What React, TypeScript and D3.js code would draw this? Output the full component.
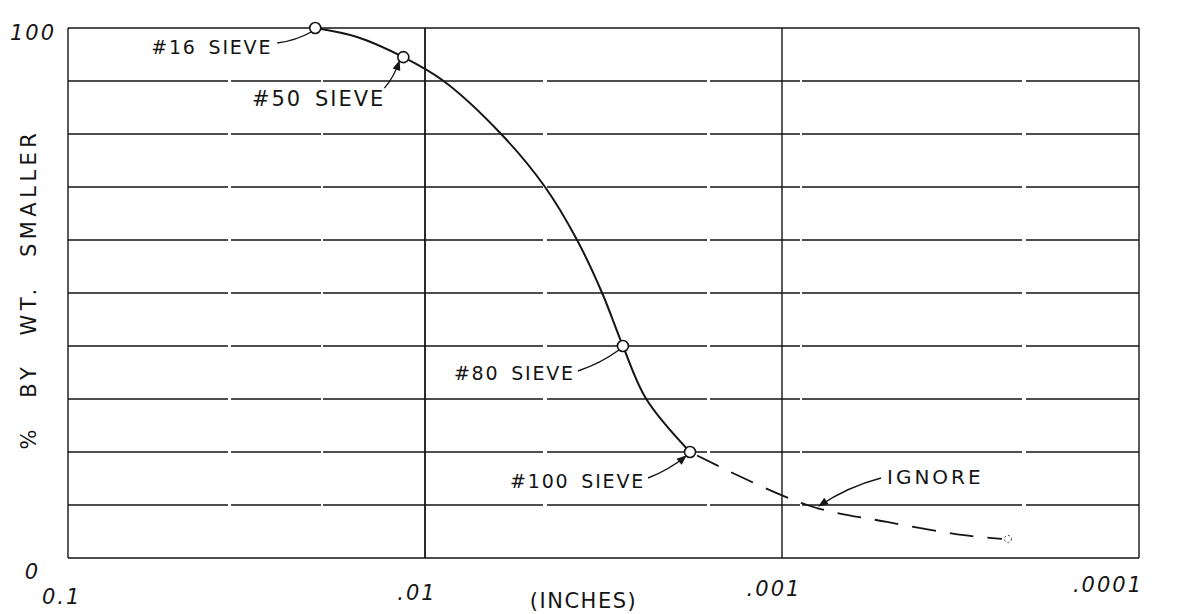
import React, { useEffect, useRef } from 'react';
import * as d3 from 'd3';

// grain size (inches) vs. percent by weight smaller
const sieveNames = ['#16 SIEVE', '#50 SIEVE', '#80 SIEVE', '#100 SIEVE'];
const sieveSize = [0.0203, 0.0115, 0.00279, 0.00181];
const sievePct = [100, 94.5, 40, 20];

const curveSize = [0.0203, 0.0155, 0.0115, 0.00887, 0.00612, 0.00461, 0.00375, 0.00319, 0.00279, 0.00240, 0.00181];
const curvePct = [100, 98.3, 94.5, 90, 80, 70, 60, 50, 40, 30, 20];

// dashed tail (to be ignored)
const tailSize = [0.00181, 0.000851, 0.000508, 0.000309, 0.000242];
const tailPct = [20, 10, 6.8, 4.3, 3.6];

const xTicks = [0.1, 0.01, 0.001, 0.0001];
const xTickLabels = ['0.1', '.01', '.001', '.0001'];
const yGrid = [0, 10, 20, 30, 40, 50, 60, 70, 80, 90, 100];
const yTickLabels = ['0', '100'];
const yTickValues = [0, 100];

const W = 1186, H = 614;
const margin = { top: 28, right: 47, bottom: 56, left: 68 };
const font = '"DejaVu Sans", sans-serif';
const ink = '#151515';

// label layout: offset of the text end from its point, and of the leader start
const labelDx = [-43, -18, -48, -45];
const labelDy = [19, 41, 27, 29];
const leadDx = [-38, -19, -45, -42];
const leadDy = [15, 31, 25, 26];
const arrowed = [false, true, false, true];

export default function App() {
    const ref = useRef<SVGSVGElement>(null);

    useEffect(() => {
        const svg = d3.select(ref.current);
        svg.selectAll('*').remove();

        const x = d3.scaleLog().domain([0.1, 0.0001]).range([margin.left, W - margin.right]);
        const y = d3.scaleLinear().domain([0, 100]).range([H - margin.bottom, margin.top]);

        const defs = svg.append('defs');
        defs.append('marker')
            .attr('id', 'arrowBig')
            .attr('viewBox', '0 0 10 10')
            .attr('refX', 9).attr('refY', 5)
            .attr('markerWidth', 14).attr('markerHeight', 10)
            .attr('markerUnits', 'userSpaceOnUse')
            .attr('orient', 'auto')
            .append('path')
            .attr('d', 'M0,1L10,5L0,9Z')
            .attr('fill', ink);

        const g = svg.append('g');

        // horizontal grid
        g.append('g').selectAll('line')
            .data(yGrid)
            .enter()
            .append('line')
            .attr('x1', x(0.1)).attr('x2', x(0.0001))
            .attr('y1', d => y(d)).attr('y2', d => y(d))
            .attr('stroke', ink)
            .attr('stroke-width', d => (d === 0 || d === 100 ? 1.5 : 1.3))
            .attr('stroke-dasharray', d => (d === 0 || d === 100 ? null : '160,3,90,2,220,4'));

        // vertical decade lines
        g.append('g').selectAll('line')
            .data(xTicks)
            .enter()
            .append('line')
            .attr('x1', d => x(d)).attr('x2', d => x(d))
            .attr('y1', y(100)).attr('y2', y(0))
            .attr('stroke', ink)
            .attr('stroke-width', (d, i) => (i === 1 ? 1.8 : 1.4));

        // tick labels
        g.append('g').selectAll('text')
            .data(xTicks)
            .enter()
            .append('text')
            .attr('x', d => x(d))
            .attr('y', (d, i) => y(0) + 46 - i * 4)
            .attr('text-anchor', (d, i) => (i === 0 ? 'start' : i === 3 ? 'end' : 'middle'))
            .attr('dx', (d, i) => (i === 0 ? -26 : i === 3 ? 4 : -8))
            .attr('font-family', font)
            .attr('font-style', 'italic')
            .attr('font-size', 21)
            .attr('letter-spacing', 2)
            .attr('fill', ink)
            .text((d, i) => xTickLabels[i]);

        g.append('g').selectAll('text')
            .data(yTickValues)
            .enter()
            .append('text')
            .attr('x', (d, i) => (i === 0 ? margin.left - 28 : margin.left - 12))
            .attr('y', d => y(d) + (d === 0 ? 21 : 12))
            .attr('text-anchor', 'end')
            .attr('font-family', font)
            .attr('font-style', 'italic')
            .attr('font-size', 21)
            .attr('letter-spacing', 2)
            .attr('fill', ink)
            .text((d, i) => yTickLabels[i]);

        // axis titles
        svg.append('text')
            .attr('x', (x(0.01) + x(0.001)) / 2 - 20)
            .attr('y', H - 6)
            .attr('text-anchor', 'middle')
            .attr('font-family', font)
            .attr('font-size', 21)
            .attr('letter-spacing', 1.5)
            .attr('fill', ink)
            .text('(INCHES)');
        svg.append('text')
            .attr('transform', `translate(36,${(y(0) + y(100)) / 2 - 4}) rotate(-90)`)
            .attr('text-anchor', 'middle')
            .attr('font-family', font)
            .attr('font-size', 21)
            .attr('letter-spacing', 4.5)
            .attr('word-spacing', 16)
            .attr('fill', ink)
            .text('% BY WT. SMALLER');

        // solid gradation curve
        const line = d3.line<number>()
            .x((d, i) => x(curveSize[i]))
            .y(d => y(d))
            .curve(d3.curveCatmullRom.alpha(0.5));
        g.append('path')
            .attr('d', line(curvePct))
            .attr('fill', 'none')
            .attr('stroke', ink)
            .attr('stroke-width', 2);

        // dashed tail
        const tail = d3.line<number>()
            .x((d, i) => x(tailSize[i]))
            .y(d => y(d))
            .curve(d3.curveCatmullRom.alpha(0.5));
        g.append('path')
            .attr('d', tail(tailPct))
            .attr('fill', 'none')
            .attr('stroke', ink)
            .attr('stroke-width', 1.8)
            .attr('stroke-dasharray', '24,14')
            .attr('stroke-dashoffset', -8);

        // sieve points
        g.append('g').selectAll('circle')
            .data(sievePct)
            .enter()
            .append('circle')
            .attr('cx', (d, i) => x(sieveSize[i]))
            .attr('cy', d => y(d))
            .attr('r', 5.5)
            .attr('fill', '#fff')
            .attr('stroke', ink)
            .attr('stroke-width', 1.6);

        // last (ignored) point
        const last = tailPct.length - 1;
        g.append('circle')
            .attr('cx', x(tailSize[last]) + 6)
            .attr('cy', y(tailPct[last]))
            .attr('r', 3.5)
            .attr('fill', '#fff')
            .attr('stroke', '#444')
            .attr('stroke-width', 1)
            .attr('stroke-dasharray', '2,2');

        // sieve labels with leaders
        const labels = g.append('g');
        sievePct.forEach((p, i) => {
            const px = x(sieveSize[i]), py = y(p);
            labels.append('text')
                .attr('x', px + labelDx[i])
                .attr('y', py + labelDy[i])
                .attr('dy', '0.35em')
                .attr('text-anchor', 'end')
                .attr('font-family', font)
                .attr('font-size', i === 1 ? 21 : 19)
                .attr('letter-spacing', i === 1 ? 2 : 1.8)
                .attr('word-spacing', 4)
                .attr('fill', ink)
                .text(sieveNames[i]);
            const sx = px + leadDx[i], sy = py + leadDy[i];
            const ex = px - 4, ey = py + 4;
            const mx = (sx + ex) / 2 + 2, my = (sy + ey) / 2 + 3;
            labels.append('path')
                .attr('d', `M${sx},${sy}Q${mx},${my} ${ex},${ey}`)
                .attr('fill', 'none')
                .attr('stroke', ink)
                .attr('stroke-width', 1.4)
                .attr('marker-end', arrowed[i] ? 'url(#arrowBig)' : null);
        });

        // IGNORE note
        const ix = x(tailSize[1]), iy = y(tailPct[1]);
        labels.append('text')
            .attr('x', ix + 80)
            .attr('y', iy - 28)
            .attr('dy', '0.35em')
            .attr('font-family', font)
            .attr('font-size', 20)
            .attr('letter-spacing', 3)
            .attr('fill', ink)
            .text('IGNORE');
        labels.append('path')
            .attr('d', `M${ix + 74},${iy - 27}Q${ix + 40},${iy - 18} ${ix + 12},${iy + 1}`)
            .attr('fill', 'none')
            .attr('stroke', ink)
            .attr('stroke-width', 1.4)
            .attr('marker-end', 'url(#arrowBig)');
    }, []);

    return (
        <svg ref={ref} width={W} height={H}
            style={{ position: 'absolute', left: 0, top: 0, display: 'block', background: '#fff' }} />
    );
}
